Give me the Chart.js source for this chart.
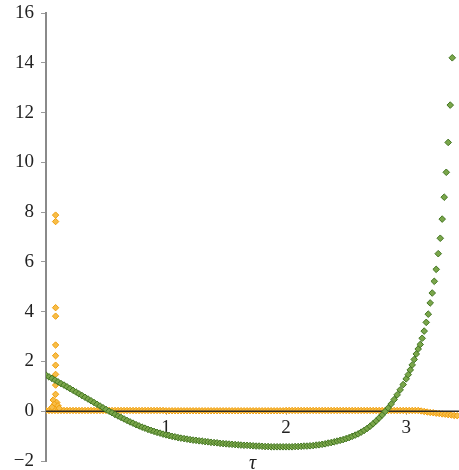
<!DOCTYPE html>
<html>
<head>
<meta charset="utf-8">
<script src="https://cdn.jsdelivr.net/npm/chart.js@4.4.1/dist/chart.umd.min.js"></script>
<style>
  html, body { margin: 0; background: #fff; }
  #wrap { width: 459px; height: 470px; position: relative; }
</style>
</head>
<body>
<div id="wrap"><canvas id="chart"></canvas></div>
<script>
// tau grid (step 0.025) shared by both series
const tauGrid = [
  0, 0.025, 0.05, 0.075, 0.1, 0.125, 0.15, 0.175, 0.2, 0.225,
  0.25, 0.275, 0.3, 0.325, 0.35, 0.375, 0.4, 0.425, 0.45, 0.475,
  0.5, 0.525, 0.55, 0.575, 0.6, 0.625, 0.65, 0.675, 0.7, 0.725,
  0.75, 0.775, 0.8, 0.825, 0.85, 0.875, 0.9, 0.925, 0.95, 0.975,
  1, 1.025, 1.05, 1.075, 1.1, 1.125, 1.15, 1.175, 1.2, 1.225,
  1.25, 1.275, 1.3, 1.325, 1.35, 1.375, 1.4, 1.425, 1.45, 1.475,
  1.5, 1.525, 1.55, 1.575, 1.6, 1.625, 1.65, 1.675, 1.7, 1.725,
  1.75, 1.775, 1.8, 1.825, 1.85, 1.875, 1.9, 1.925, 1.95, 1.975,
  2, 2.025, 2.05, 2.075, 2.1, 2.125, 2.15, 2.175, 2.2, 2.225,
  2.25, 2.275, 2.3, 2.325, 2.35, 2.375, 2.4, 2.425, 2.45, 2.475,
  2.5, 2.525, 2.55, 2.575, 2.6, 2.625, 2.65, 2.675, 2.7, 2.725,
  2.75, 2.775, 2.8, 2.825, 2.85, 2.875, 2.9, 2.925, 2.95, 2.975,
  3, 3.025, 3.05, 3.075, 3.1, 3.125, 3.15, 3.175, 3.2, 3.225,
  3.25, 3.275, 3.3, 3.325, 3.35, 3.375, 3.4, 3.425
];

// green series: flat part on tauGrid up to 3.0, then the steep tail
const greenFlat = [
  1.45, 1.38, 1.32, 1.25, 1.18, 1.11, 1.05, 0.98, 0.91, 0.84,
  0.77, 0.70, 0.63, 0.56, 0.49, 0.42, 0.35, 0.28, 0.21, 0.14,
  0.07, 0.00, -0.06, -0.13, -0.19, -0.25, -0.31, -0.37, -0.43, -0.48,
  -0.54, -0.59, -0.64, -0.68, -0.73, -0.77, -0.81, -0.85, -0.88, -0.92,
  -0.95, -0.98, -1.01, -1.03, -1.06, -1.08, -1.10, -1.12, -1.14, -1.16,
  -1.17, -1.19, -1.20, -1.22, -1.23, -1.25, -1.26, -1.27, -1.29, -1.30,
  -1.31, -1.32, -1.33, -1.34, -1.35, -1.36, -1.37, -1.37, -1.38, -1.39,
  -1.40, -1.40, -1.41, -1.42, -1.42, -1.43, -1.43, -1.43, -1.43, -1.43,
  -1.43, -1.43, -1.43, -1.42, -1.42, -1.41, -1.40, -1.40, -1.39, -1.38,
  -1.36, -1.35, -1.33, -1.31, -1.28, -1.26, -1.23, -1.20, -1.17, -1.14,
  -1.10, -1.06, -1.01, -0.96, -0.91, -0.84, -0.77, -0.69, -0.60, -0.50,
  -0.39, -0.27, -0.15, -0.01, 0.13, 0.29, 0.47, 0.66, 0.86, 1.07,
  1.30
];
const greenTailTau = [
  3.017, 3.034, 3.05, 3.067, 3.084, 3.1, 3.117, 3.133, 3.15, 3.167,
  3.184, 3.2, 3.217, 3.234, 3.25, 3.267, 3.284, 3.3, 3.317, 3.334,
  3.35, 3.367, 3.384
];
const greenTail = [
  1.47, 1.66, 1.86, 2.08, 2.30, 2.50, 2.68, 2.93, 3.22, 3.57,
  3.90, 4.35, 4.75, 5.22, 5.70, 6.33, 6.95, 7.72, 8.60, 9.60,
  10.80, 12.30, 14.20
];

// orange series: band near zero on tauGrid, plus the spike near tau = 0.08
const orangeLine = [
  0.03, 0.03, 0.03, 0.03, 0.03, 0.03, 0.03, 0.03, 0.03, 0.03,
  0.03, 0.03, 0.03, 0.03, 0.03, 0.03, 0.03, 0.03, 0.03, 0.03,
  0.03, 0.03, 0.03, 0.03, 0.03, 0.03, 0.03, 0.03, 0.03, 0.03,
  0.03, 0.03, 0.03, 0.03, 0.03, 0.03, 0.03, 0.03, 0.03, 0.03,
  0.02, 0.02, 0.02, 0.02, 0.02, 0.02, 0.02, 0.02, 0.02, 0.02,
  0.02, 0.02, 0.02, 0.02, 0.02, 0.02, 0.02, 0.02, 0.02, 0.02,
  0.02, 0.02, 0.02, 0.02, 0.02, 0.02, 0.02, 0.02, 0.02, 0.02,
  0.02, 0.02, 0.02, 0.02, 0.02, 0.02, 0.02, 0.02, 0.02, 0.02,
  0.03, 0.03, 0.03, 0.03, 0.03, 0.03, 0.03, 0.03, 0.03, 0.03,
  0.03, 0.03, 0.03, 0.03, 0.03, 0.03, 0.03, 0.03, 0.03, 0.03,
  0.03, 0.03, 0.03, 0.03, 0.03, 0.03, 0.03, 0.03, 0.03, 0.03,
  0.03, 0.03, 0.03, 0.03, 0.03, 0.03, 0.03, 0.03, 0.03, 0.03,
  0.03, 0.03, 0.03, 0.03, 0.03, 0.01, -0.01, -0.03, -0.05, -0.06,
  -0.08, -0.09, -0.11, -0.12, -0.14, -0.15, -0.17, -0.18
];
const spikeTau = [0.08, 0.08, 0.08, 0.08, 0.08, 0.08, 0.08, 0.08, 0.08, 0.08, 0.06, 0.09, 0.07, 0.1, 0.05, 0.11];
const spikeVal = [7.88, 7.62, 4.16, 3.82, 2.66, 2.23, 1.85, 1.48, 1.05, 0.68, 0.45, 0.35, 0.28, 0.22, 0.16, 0.12];

const xTicks = [1, 2, 3];
const yTicks = [-2, -1, 0, 1, 2, 3, 4, 5, 6, 7, 8, 9, 10, 11, 12, 13, 14, 15, 16];
const yLabels = ['−2', '', '0', '', '2', '', '4', '', '6', '', '8', '', '10', '', '12', '', '14', '', '16'];

const greenTau = tauGrid.slice(0, greenFlat.length).concat(greenTailTau);
const greenY = greenFlat.concat(greenTail);
const greenPts = greenTau.map((t, i) => ({ x: t, y: greenY[i] }));
const orangePts = tauGrid.map((t, i) => ({ x: t, y: orangeLine[i] }))
  .concat(spikeTau.map((t, i) => ({ x: t, y: spikeVal[i] })));

// black zero line drawn between orange and green
const zeroLine = {
  id: 'zeroLine',
  afterDatasetDraw(chart, args) {
    if (args.index !== 1) return;
    const { ctx, chartArea, scales } = chart;
    const py = scales.y.getPixelForValue(0);
    ctx.save();
    ctx.strokeStyle = '#2a2a2a';
    ctx.lineWidth = 1.5;
    ctx.beginPath();
    ctx.moveTo(chartArea.left, py);
    ctx.lineTo(chartArea.right, py);
    ctx.stroke();
    ctx.restore();
  }
};

const serif = '"Liberation Serif", "DejaVu Serif", serif';
const noPad = s => { s.paddingTop = 0; s.paddingBottom = 0; s.paddingLeft = 0; s.paddingRight = 0; };

new Chart(document.getElementById('chart'), {
  type: 'scatter',
  data: {
    datasets: [{
      label: 'green',
      data: greenPts,
      order: 0,
      pointStyle: 'rectRot',
      pointRadius: 3.3,
      borderWidth: 1,
      borderColor: '#437522',
      backgroundColor: '#7aa64a'
    }, {
      label: 'orange',
      data: orangePts,
      order: 1,
      pointStyle: 'rectRot',
      pointRadius: 3.2,
      borderWidth: 1,
      borderColor: '#f09e0a',
      backgroundColor: '#f7bd48'
    }]
  },
  options: {
    responsive: true,
    maintainAspectRatio: false,
    animation: false,
    layout: { autoPadding: false, padding: { top: 13, right: 0, bottom: 9, left: 0 } },
    plugins: { legend: { display: false }, tooltip: { enabled: false } },
    scales: {
      x: {
        type: 'linear',
        position: { y: 0 },
        min: 0,
        max: 3.44,
        afterBuildTicks: s => { s.ticks = xTicks.map(v => ({ value: v })); },
        afterFit: noPad,
        grid: { drawOnChartArea: false, tickLength: 4, color: '#aaa' },
        border: { display: false },
        ticks: { font: { family: serif, size: 19 }, color: '#222', padding: 1, maxRotation: 0 },
        title: { display: true, text: 'τ', font: { family: serif, size: 20, style: 'italic' }, color: '#222', padding: { top: 12 } }
      },
      y: {
        min: -2,
        max: 16,
        afterFit: s => { s.width = 46; noPad(s); },
        afterBuildTicks: s => { s.ticks = yTicks.map(v => ({ value: v })); },
        grid: {
          drawOnChartArea: false,
          tickLength: 5,
          tickColor: c => (c.tick && c.tick.value % 2 !== 0) ? '#d0d0d0' : '#9a9a9a'
        },
        border: { color: '#8a8a8a', width: 2 },
        ticks: {
          font: { family: serif, size: 19 },
          color: '#222',
          padding: 7,
          callback: (v, i) => yLabels[i]
        }
      }
    }
  },
  plugins: [zeroLine]
});
</script>
</body>
</html>
